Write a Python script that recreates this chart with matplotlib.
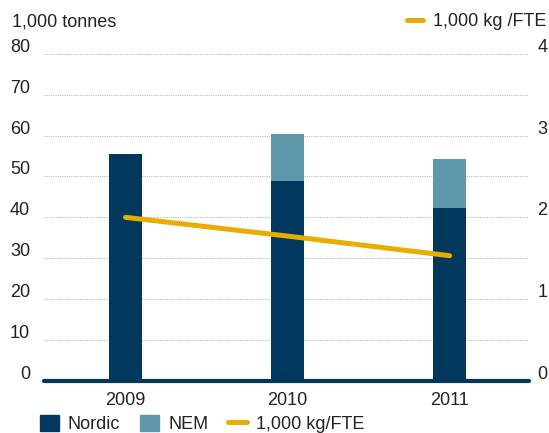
import matplotlib.pyplot as plt
import matplotlib.transforms as mtrans
from matplotlib.patches import Patch
from matplotlib.lines import Line2D
import numpy as np

plt.rcParams['font.family'] = ['Liberation Sans', 'DejaVu Sans']

# data
years = ['2009', '2010', '2011']
nordic = [55.6, 48.9, 42.3]
nem = [0.0, 11.4, 12.0]
kg_per_fte = [2.0, 1.77, 1.53]

navy = '#03385e'
teal = '#5f98ab'
gold = '#e8ad00'
txt = '#222222'
fs = 13

W, H = 549, 433
fig = plt.figure(figsize=(W / 100, H / 100), dpi=100)
ax = fig.add_axes([44 / W, (H - 380.7) / H, (529 - 44) / W, (380.7 - 53.9) / H])
ax2 = ax.twinx()

x = np.arange(len(years))
bw = 0.204
ax.bar(x, nordic, width=bw, color=navy, zorder=3)
ax.bar(x, nem, width=bw, bottom=nordic, color=teal, zorder=3)

ax.set_xlim(-0.503, 2.49)
ax.set_ylim(0, 80)
ax.set_yticks(range(0, 81, 10))
for v in range(10, 81, 10):
    ax.axhline(v, color='#bbbbbb', lw=0.8, ls=(0, (1, 1)), zorder=1)
ax.axhline(0, color=navy, lw=3.0, solid_capstyle='round', zorder=4, clip_on=False)

ax.set_xticks(x)
ax.set_xticklabels(years)
ax.tick_params(axis='x', length=0, pad=8, labelsize=fs, labelcolor=txt)
ax.tick_params(axis='y', length=0, pad=10, labelsize=fs, labelcolor=txt)
for s in ax.spines.values():
    s.set_visible(False)
off = mtrans.ScaledTranslation(0, 2 / 100, fig.dpi_scale_trans)
for lab in ax.get_yticklabels():
    lab.set_verticalalignment('baseline')
    lab.set_transform(lab.get_transform() + off)

ax2.plot(x, kg_per_fte, color=gold, lw=3.6, solid_capstyle='round', zorder=5)
ax2.set_ylim(0, 4)
ax2.set_yticks(range(0, 5))
ax2.tick_params(axis='y', length=0, pad=6, labelsize=fs, labelcolor=txt)
for s in ax2.spines.values():
    s.set_visible(False)
for lab in ax2.get_yticklabels():
    lab.set_verticalalignment('baseline')
    lab.set_transform(lab.get_transform() + off)

fig.text(12 / W, 1 - 22 / H, '1,000 tonnes', fontsize=fs, color=txt, va='center', ha='left')

top_handle = [Line2D([0], [0], color=gold, lw=3.6, solid_capstyle='round')]
fig.legend(top_handle, ['1,000 kg /FTE'], loc='center right',
           bbox_to_anchor=(546 / W, 1 - 22 / H), frameon=False, fontsize=fs,
           handlelength=0.85, handletextpad=0.55, borderaxespad=0, borderpad=0,
           labelcolor=txt)

handles = [Patch(color=navy), Patch(color=teal),
           Line2D([0], [0], color=gold, lw=3.6, solid_capstyle='round')]
fig.legend(handles, ['Nordic', 'NEM', '1,000 kg/FTE'], loc='center left',
           bbox_to_anchor=(40 / W, 1 - 424 / H), ncol=3, frameon=False, fontsize=fs,
           handlelength=1.05, handleheight=1.05, handletextpad=0.5, columnspacing=1.1,
           borderaxespad=0, borderpad=0, labelcolor=txt)

fig.savefig('out.png', dpi=100)
